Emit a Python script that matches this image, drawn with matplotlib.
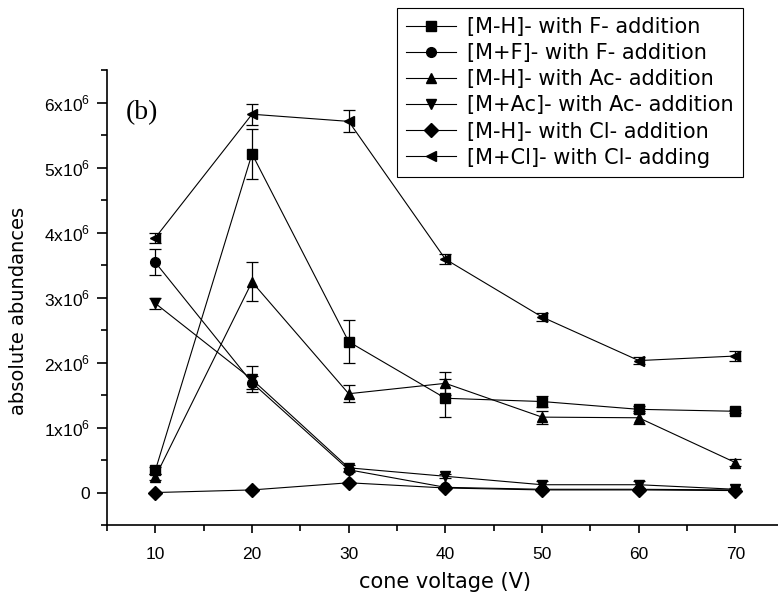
import numpy as np
import matplotlib.pyplot as plt
from matplotlib.lines import Line2D

plt.rcParams['font.family'] = ['Liberation Sans', 'DejaVu Sans']
plt.rcParams['mathtext.fontset'] = 'custom'
plt.rcParams['mathtext.rm'] = 'Liberation Sans'

voltage = [10, 20, 30, 40, 50, 60, 70]

labels = ["[M-H]- with F- addition", "[M+F]- with F- addition",
          "[M-H]- with Ac- addition", "[M+Ac]- with Ac- addition",
          "[M-H]- with Cl- addition", "[M+Cl]- with Cl- adding"]
markers = ["s", "o", "^", "v", "D", "<"]

mh_f = [0.34e6, 5.21e6, 2.32e6, 1.45e6, 1.40e6, 1.28e6, 1.25e6]
mh_f_err = [0.05e6, 0.38e6, 0.33e6, 0.29e6, 0.08e6, 0.05e6, 0.02e6]
mf_f = [3.54e6, 1.69e6, 0.35e6, 0.08e6, 0.05e6, 0.05e6, 0.04e6]
mf_f_err = [0.2e6, 0.1e6, 0.03e6, 0.02e6, 0.02e6, 0.02e6, 0.01e6]
mh_ac = [0.24e6, 3.24e6, 1.52e6, 1.68e6, 1.16e6, 1.15e6, 0.46e6]
mh_ac_err = [0.05e6, 0.30e6, 0.13e6, 0.18e6, 0.1e6, 0.1e6, 0.05e6]
mac_ac = [2.91e6, 1.74e6, 0.38e6, 0.25e6, 0.12e6, 0.12e6, 0.05e6]
mac_ac_err = [0.08e6, 0.2e6, 0.05e6, 0.03e6, 0.05e6, 0.05e6, 0.02e6]
mh_cl = [0.0, 0.04e6, 0.15e6, 0.07e6, 0.04e6, 0.04e6, 0.03e6]
mh_cl_err = [0.01e6, 0.01e6, 0.01e6, 0.01e6, 0.01e6, 0.01e6, 0.01e6]
mcl_cl = [3.92e6, 5.82e6, 5.71e6, 3.59e6, 2.70e6, 2.03e6, 2.10e6]
mcl_cl_err = [0.08e6, 0.16e6, 0.17e6, 0.08e6, 0.06e6, 0.05e6, 0.08e6]

series = [mh_f, mf_f, mh_ac, mac_ac, mh_cl, mcl_cl]
errors = [mh_f_err, mf_f_err, mh_ac_err, mac_ac_err, mh_cl_err, mcl_cl_err]

yticks = [0, 1e6, 2e6, 3e6, 4e6, 5e6, 6e6]
ytick_labels = ["0"] + [r"%dx10$^{6}$" % i for i in range(1, 7)]


def main():
    fig = plt.figure(figsize=(7.78, 5.95), dpi=100)
    ax = fig.add_axes([0.1375, 0.1176, 0.870, 0.7647])

    handles = []
    for y, e, m, lab in zip(series, errors, markers, labels):
        ax.errorbar(voltage, y, yerr=e, marker=m, color="black", ms=7,
                    lw=0.8, elinewidth=0.9, capsize=4, capthick=0.9)
        handles.append(Line2D([], [], marker=m, color="black", ms=7,
                              lw=0.8, label=lab))

    ax.set_xlim(5, 75)
    ax.set_ylim(-0.5e6, 6.5e6)
    ax.set_xticks(voltage)
    ax.set_xticks(np.arange(5, 76, 10), minor=True)
    ax.set_yticks(yticks)
    ax.set_yticklabels(ytick_labels)
    ax.set_yticks(np.arange(-0.5e6, 6.6e6, 1e6), minor=True)
    ax.spines["top"].set_visible(False)
    ax.spines["right"].set_visible(False)
    ax.spines["left"].set_linewidth(1.2)
    ax.spines["bottom"].set_linewidth(1.2)
    ax.tick_params(axis="y", which="major", length=7, width=1.2, pad=5,
                   labelsize=12.5)
    ax.tick_params(axis="y", which="minor", length=4, width=1.2)
    ax.tick_params(axis="x", which="major", length=6, width=1.2, pad=10,
                   labelsize=12.5)
    ax.tick_params(axis="x", which="minor", length=4, width=1.2)
    ax.set_xlabel("cone voltage (V)", fontsize=15, family="DejaVu Sans",
                  labelpad=7)
    ax.set_ylabel("absolute abundances", fontsize=14, family="DejaVu Sans")
    ax.yaxis.set_label_coords(-0.116, 0.47)

    ax.text(0.028, 0.935, "(b)", transform=ax.transAxes, fontsize=20,
            family="Liberation Serif", va="top")

    leg = fig.legend(handles=handles, loc="upper left",
                     bbox_to_anchor=(397 / 778, 1 - 8 / 595),
                     prop={"family": "DejaVu Sans", "size": 15},
                     handlelength=2.4, handletextpad=0.5,
                     labelspacing=0.29, borderpad=0.45, borderaxespad=0,
                     fancybox=False, framealpha=1, edgecolor="black")
    leg.get_frame().set_linewidth(0.8)

    fig.savefig("out.png", dpi=100)


if __name__ == '__main__':
    main()
